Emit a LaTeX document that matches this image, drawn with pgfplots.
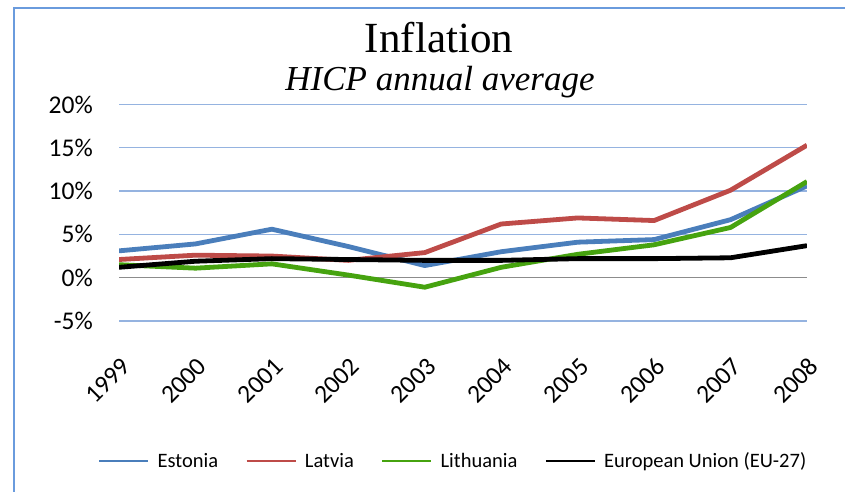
\documentclass[border=0pt]{standalone}
\usepackage{fontspec}
\setmainfont{Carlito}
\newfontfamily\titlefont{Liberation Serif}
\usepackage{pgfplots}
\pgfplotsset{compat=1.18}
\definecolor{estblue}{HTML}{4A7EBB}
\definecolor{latred}{HTML}{BE4B48}
\definecolor{litgreen}{HTML}{46A30F}
\definecolor{gridblue}{HTML}{95B3E0}
\definecolor{borderblue}{HTML}{6A9BDD}
\definecolor{zerogray}{HTML}{8C8C8C}
\begin{document}
\begin{tikzpicture}
\useasboundingbox (0pt,0pt) rectangle (845pt,492pt);
\fill[white] (0pt,0pt) rectangle (845pt,492pt);
\draw[borderblue, line width=1.6pt] (14pt,-5pt) -- (14pt,484pt) -- (850pt,484pt);
\node[font=\titlefont\fontsize{43}{48}\selectfont, anchor=base] at (439pt,439pt) {Inflation};
\node[font=\titlefont\itshape\fontsize{35}{40}\selectfont, anchor=base] at (440pt,401pt) {HICP annual average};
\begin{axis}[
  at={(119pt,171pt)}, anchor=south west,
  scale only axis, width=688pt, height=216.5pt,
  xmin=1999, xmax=2008, ymin=-5, ymax=20,
  axis line style={draw=none},
  major tick length=0pt,
  xtick={1999,...,2008},
  xticklabels={1999,2000,2001,2002,2003,2004,2005,2006,2007,2008},
  ytick={-5,0,5,10,15,20},
  yticklabels={-5\%,0\%,5\%,10\%,15\%,20\%},
  ymajorgrids,
  grid style={gridblue, line width=1.2pt},
  tick label style={font=\fontsize{25.5}{29}\selectfont},
  yticklabel style={anchor=east, inner sep=0pt, xshift=-26pt},
  xticklabel style={inner sep=0pt, xshift=7pt, yshift=-41pt, rotate=45, anchor=east},
  legend columns=4,
  legend style={draw=none, fill=none, inner sep=0pt, at={(-0.031,-0.6467)}, anchor=west,
    font=\fontsize{20.5}{24}\selectfont,
    nodes={inner sep=0pt},
    /tikz/every even column/.append style={column sep=27pt}},
  legend image code/.code={\draw[#1, line width=2.7pt] (0pt,0pt) -- (49pt,0pt); \path (56pt,0pt);},
  every axis plot/.append style={line width=4.8pt, line join=round},
]
\draw[zerogray, line width=1.2pt] (axis cs:1999,0) -- (axis cs:2008,0);
\addplot[estblue] coordinates {(1999,3.1)(2000,3.9)(2001,5.6)(2002,3.6)(2003,1.4)(2004,3.0)(2005,4.1)(2006,4.4)(2007,6.7)(2008,10.6)};
\addlegendentry{Estonia}
\addplot[latred] coordinates {(1999,2.1)(2000,2.6)(2001,2.5)(2002,2.0)(2003,2.9)(2004,6.2)(2005,6.9)(2006,6.6)(2007,10.1)(2008,15.3)};
\addlegendentry{Latvia}
\addplot[litgreen] coordinates {(1999,1.5)(2000,1.1)(2001,1.6)(2002,0.3)(2003,-1.1)(2004,1.2)(2005,2.7)(2006,3.8)(2007,5.8)(2008,11.1)};
\addlegendentry{Lithuania}
\addplot[black] coordinates {(1999,1.2)(2000,1.9)(2001,2.2)(2002,2.1)(2003,2.0)(2004,2.0)(2005,2.2)(2006,2.2)(2007,2.3)(2008,3.7)};
\addlegendentry{European Union (EU-27)}
\end{axis}
\end{tikzpicture}
\end{document}
